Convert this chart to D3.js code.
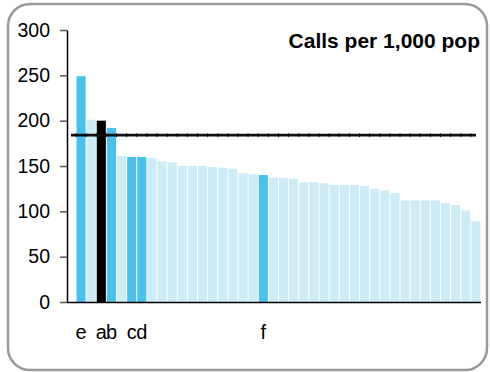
<!DOCTYPE html>
<html>
<head>
<meta charset="utf-8">
<script src="https://cdn.jsdelivr.net/npm/d3@7"></script>
<style>
  html, body { margin: 0; padding: 0; background: #fff; }
  svg { display: block; font-family: Arial, "Liberation Sans", Helvetica, sans-serif; }
</style>
</head>
<body>
<svg id="chart" width="490" height="372"></svg>
<script>
// ---- data ----
const categories = d3.range(40).map(i => "area" + (i + 1));
const values = [249, 201, 200, 192, 161, 160, 160, 159, 155, 154,
                150, 150, 150, 149, 148, 147, 142, 141, 140, 137,
                137, 136, 132, 132, 131, 129, 129, 129, 128, 125,
                123, 120, 112, 112, 112, 112, 109, 107, 101, 89];
const labels = ["e", "", "a", "b", "", "c", "d", "", "", "",
                "", "", "", "", "", "", "", "", "f", "",
                "", "", "", "", "", "", "", "", "", "",
                "", "", "", "", "", "", "", "", "", ""];
const kinds = ["hi", "lo", "self", "hi", "lo", "hi", "hi", "lo", "lo", "lo",
               "lo", "lo", "lo", "lo", "lo", "lo", "lo", "lo", "hi", "lo",
               "lo", "lo", "lo", "lo", "lo", "lo", "lo", "lo", "lo", "lo",
               "lo", "lo", "lo", "lo", "lo", "lo", "lo", "lo", "lo", "lo"];
const averageValue = 184;
const yTicks = [0, 50, 100, 150, 200, 250, 300];
const title = "Calls per 1,000 pop";

const colors = { hi: "#4ac1eb", lo: "#cdecf8", self: "#000000" };

const svg = d3.select("#chart");

// frame
svg.append("rect")
  .attr("x", 8).attr("y", 4).attr("width", 479).attr("height", 366)
  .attr("rx", 22).attr("ry", 22)
  .attr("fill", "#fff").attr("stroke", "#9a9a9a").attr("stroke-width", 2.5);

const x = d3.scaleBand().domain(categories).range([76, 481])
  .paddingInner(0.1).paddingOuter(0.05);
const y = d3.scaleLinear().domain([0, 300]).range([302, 30]);

// bars
svg.append("g").selectAll("rect").data(categories).join("rect")
  .attr("x", d => x(d))
  .attr("y", (d, i) => y(values[i]))
  .attr("width", x.bandwidth())
  .attr("height", (d, i) => y(0) - y(values[i]))
  .attr("fill", (d, i) => colors[kinds[i]]);

// y axis
const yAxis = svg.append("g").attr("transform", "translate(67,0)")
  .call(d3.axisLeft(y).tickValues(yTicks).tickSize(7).tickPadding(10).tickSizeOuter(0));
yAxis.select(".domain").attr("stroke", "#000").attr("stroke-width", 1.5);
yAxis.selectAll(".tick line").attr("stroke", "#555").attr("stroke-width", 1.5);
yAxis.selectAll(".tick text").attr("font-size", 19.5).attr("fill", "#000")
  .attr("font-family", "Arial, 'Liberation Sans', sans-serif");

// x axis
const xAxis = svg.append("g").attr("transform", "translate(0,302)")
  .call(d3.axisBottom(x).tickSize(0).tickSizeOuter(0).tickPadding(23)
    .tickFormat((d, i) => labels[i]));
xAxis.select(".domain").attr("d", "M67,0.5H481").attr("stroke", "#000").attr("stroke-width", 1.5);
xAxis.selectAll(".tick text").attr("font-size", 20).attr("fill", "#000")
  .attr("font-family", "Arial, 'Liberation Sans', sans-serif");

// average line
const step = x.step();
const gap = step - x.bandwidth();
const x0 = x(categories[0]) + x.bandwidth() / 2 - step;
const x1 = x(categories[categories.length - 1]) + x.bandwidth() / 2;
const ay = y(averageValue);
svg.append("line").attr("x1", x0).attr("x2", x1).attr("y1", ay).attr("y2", ay)
  .attr("stroke", "#111").attr("stroke-width", 2.8);
svg.append("g").selectAll("line").data(categories).join("line")
  .attr("x1", d => x(d) - gap / 2).attr("x2", d => x(d) - gap / 2)
  .attr("y1", ay - 2).attr("y2", ay + 2)
  .attr("stroke", "#000").attr("stroke-width", 0.8);

// title
svg.append("text").attr("x", 480).attr("y", 48).attr("text-anchor", "end")
  .attr("font-size", 21).attr("font-weight", "bold").attr("fill", "#000")
  .text(title);
</script>
</body>
</html>
